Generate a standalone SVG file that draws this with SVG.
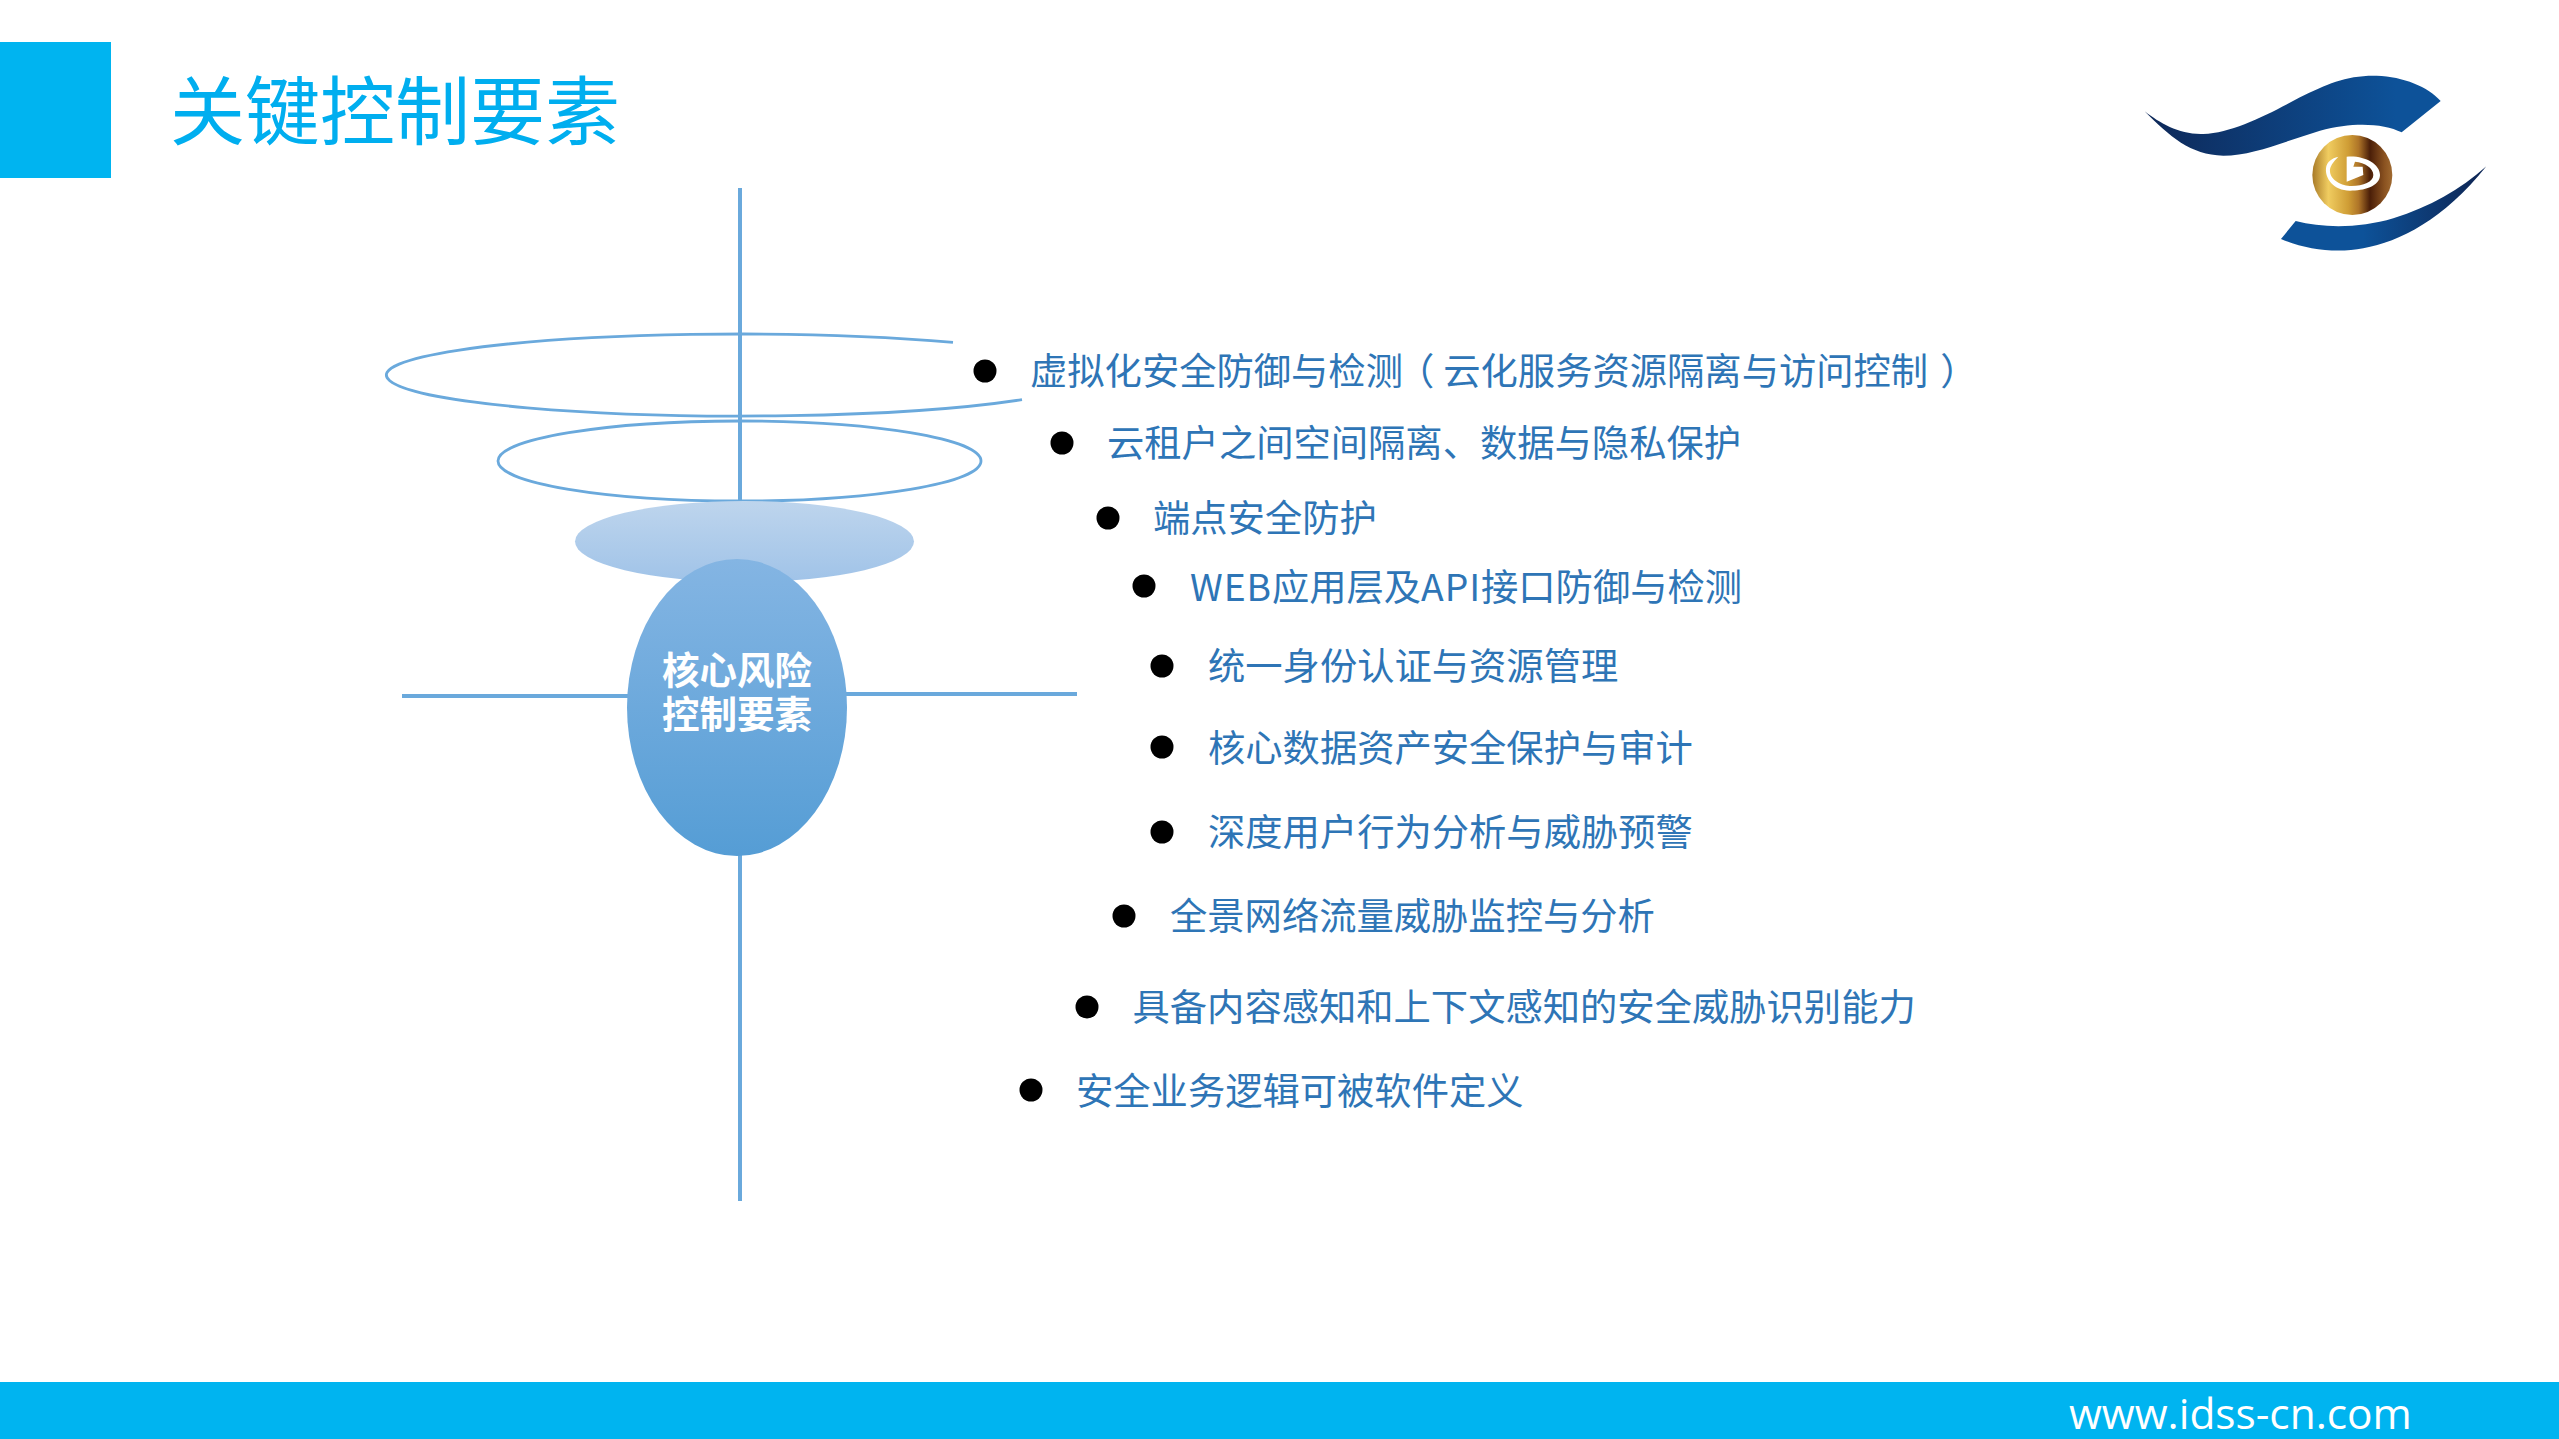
<svg xmlns="http://www.w3.org/2000/svg" width="2559" height="1439" viewBox="0 0 2559 1439">
<defs>
<linearGradient id="g1" x1="0" y1="0" x2="0" y2="1"><stop offset="0" stop-color="#bed5ed"/><stop offset="1" stop-color="#a0c3e8"/></linearGradient>
<linearGradient id="g2" x1="0" y1="0" x2="0" y2="1"><stop offset="0" stop-color="#84b5e3"/><stop offset="1" stop-color="#559dd5"/></linearGradient>
<linearGradient id="s1" x1="0" y1="0" x2="1" y2="0"><stop offset="0" stop-color="#0e2858"/><stop offset="0.85" stop-color="#0d5299"/><stop offset="1" stop-color="#0d5299"/></linearGradient>
<linearGradient id="s2" x1="0" y1="0" x2="1" y2="0"><stop offset="0" stop-color="#0d5299"/><stop offset="0.4" stop-color="#0d5299"/><stop offset="0.95" stop-color="#0e2858"/><stop offset="1" stop-color="#0e2858"/></linearGradient>
<linearGradient id="gold" x1="0" y1="0" x2="1" y2="0"><stop offset="0" stop-color="#a87a28"/><stop offset="0.2" stop-color="#f0cc60"/><stop offset="0.45" stop-color="#cf9d35"/><stop offset="0.58" stop-color="#ae7428"/><stop offset="0.72" stop-color="#4a1e08"/><stop offset="0.9" stop-color="#8a5220"/><stop offset="1" stop-color="#a06a30"/></linearGradient>
</defs>
<style>
.ax{stroke:#6aa9dc;stroke-width:4;fill:none}
.ring{stroke:#6aa9dc;stroke-width:2.8;fill:none}
.item{font-family:"Noto Sans CJK SC","Liberation Sans",sans-serif;font-size:37.3px;fill:#2e75b6;font-weight:400}
.dot{fill:#000}
.core{font-family:"Noto Sans CJK SC","Liberation Sans",sans-serif;font-size:37.5px;fill:#fff;font-weight:700;text-anchor:middle}
</style>
<rect id="corner" x="0" y="42" width="111" height="136" fill="#00b4f0"/>
<text id="title" x="170" y="139" font-family="'Noto Sans CJK SC','Liberation Sans',sans-serif" font-size="75" fill="#00aeef">关键控制要素</text>
<g id="logo" transform="translate(2100,40) scale(0.33333)">
<path fill="url(#s1)" d="M134,214 C180,250 240,285 310,282 C400,278 500,225 600,172 C680,132 740,105 830,107 C910,110 985,140 1022,183 L905,277 C850,250 760,245 660,272 C560,302 460,347 370,347 C270,345 210,290 134,214 Z"/>
<path fill="url(#s2)" d="M1159,379 C1080,450 990,500 880,535 C780,565 670,565 587,543 L543,597 C620,630 710,640 790,625 C900,605 1030,540 1159,379 Z"/>
<circle cx="757" cy="405" r="120" fill="url(#gold)"/>
<path fill="#fff" d="M740,350 C790,345 840,370 840,405 C840,440 790,452 750,452 C700,452 675,415 678,385 C680,365 695,355 715,350 C700,365 688,380 690,395 C692,420 725,438 755,438 C790,438 820,425 820,405 C820,385 795,367 765,365 L760,380 L788,380 L790,405 L740,425 Z"/>
</g>
<g id="connectors">
<line class="ax" x1="740" y1="188" x2="740" y2="1201"/>
<line class="ax" x1="402" y1="696" x2="630" y2="696"/>
<line class="ax" x1="845" y1="694" x2="1077" y2="694"/>
</g>
<g id="rings">
<path class="ring" d="M953,342.4 A353,41 0 1 0 1022,399.6"/>
<ellipse class="ring" cx="739.5" cy="461" rx="241.5" ry="40"/>
</g>
<ellipse id="disc" cx="744.5" cy="541.5" rx="169.5" ry="40.5" fill="url(#g1)"/>
<g id="core">
<ellipse cx="737" cy="707.5" rx="110" ry="148.5" fill="url(#g2)"/>
<text class="core" x="737" y="684">核心风险</text>
<text class="core" x="737" y="728">控制要素</text>
</g>
<g id="i1"><circle class="dot" cx="985" cy="371" r="11.5"/><text class="item" x="1030" y="385">虚拟化安全防御与检测<tspan dx="-6">（</tspan><tspan dx="9">云化服务资源隔离与访问控制</tspan><tspan dx="12">）</tspan></text></g>
<g id="i2"><circle class="dot" cx="1062" cy="443" r="11.5"/><text class="item" x="1107" y="457">云租户之间空间隔离、数据与隐私保护</text></g>
<g id="i3"><circle class="dot" cx="1108" cy="518" r="11.5"/><text class="item" x="1153" y="532">端点安全防护</text></g>
<g id="i4"><circle class="dot" cx="1144" cy="586" r="11.5"/><text class="item" x="1190" y="601"><tspan letter-spacing="0.9">WEB</tspan>应用层及<tspan letter-spacing="0.9">API</tspan>接口防御与检测</text></g>
<g id="i5"><circle class="dot" cx="1162" cy="666" r="11.5"/><text class="item" x="1208" y="680">统一身份认证与资源管理</text></g>
<g id="i6"><circle class="dot" cx="1162" cy="747" r="11.5"/><text class="item" x="1208" y="762">核心数据资产安全保护与审计</text></g>
<g id="i7"><circle class="dot" cx="1162" cy="832" r="11.5"/><text class="item" x="1208" y="846">深度用户行为分析与威胁预警</text></g>
<g id="i8"><circle class="dot" cx="1124" cy="916" r="11.5"/><text class="item" x="1170" y="930">全景网络流量威胁监控与分析</text></g>
<g id="i9"><circle class="dot" cx="1087" cy="1007" r="11.5"/><text class="item" x="1132.5" y="1021">具备内容感知和上下文感知的安全威胁识别能力</text></g>
<g id="i10"><circle class="dot" cx="1031" cy="1090" r="11.5"/><text class="item" x="1076" y="1105">安全业务逻辑可被软件定义</text></g>
<g id="footer">
<rect x="0" y="1382" width="2559" height="57" fill="#00b4f0"/>
<text x="2069" y="1429" font-family="'Open Sans','Liberation Sans',sans-serif" font-size="42.4" fill="#fff">www.idss-cn.com</text>
</g>
</svg>
